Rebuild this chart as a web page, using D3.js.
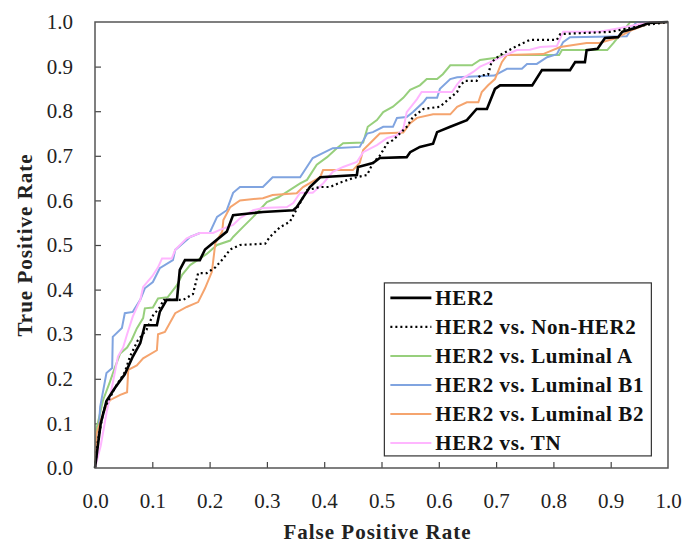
<!DOCTYPE html>
<html>
<head>
<meta charset="utf-8">
<script src="https://cdn.jsdelivr.net/npm/d3@7"></script>
<style>
  body { margin: 0; background: #fff; overflow: hidden; }
  svg { display: block; }
</style>
</head>
<body>
<div id="chart"></div>
<script>
// ROC points [false positive rate, true positive rate]
const her2 = [[0,0],[0.005,0.05],[0.01,0.1],[0.02,0.15],[0.035,0.18],[0.052,0.21],[0.066,0.25],[0.079,0.28],[0.087,0.32],[0.108,0.32],[0.113,0.35],[0.125,0.377],[0.143,0.377],[0.148,0.444],[0.157,0.466],[0.183,0.466],[0.192,0.49],[0.23,0.53],[0.241,0.567],[0.293,0.574],[0.346,0.578],[0.352,0.585],[0.375,0.63],[0.393,0.652],[0.457,0.657],[0.459,0.675],[0.485,0.684],[0.497,0.695],[0.544,0.697],[0.55,0.708],[0.567,0.72],[0.59,0.727],[0.597,0.753],[0.62,0.765],[0.649,0.78],[0.666,0.805],[0.684,0.805],[0.698,0.85],[0.707,0.858],[0.763,0.858],[0.78,0.892],[0.829,0.892],[0.838,0.91],[0.855,0.91],[0.858,0.937],[0.877,0.94],[0.89,0.964],[0.913,0.966],[0.92,0.978],[0.942,0.986],[0.968,0.998],[1,1]];
const nonHer2 = [[0,0],[0.005,0.06],[0.015,0.13],[0.035,0.18],[0.052,0.215],[0.061,0.25],[0.075,0.287],[0.09,0.31],[0.1,0.34],[0.113,0.36],[0.12,0.377],[0.154,0.377],[0.171,0.39],[0.18,0.437],[0.195,0.437],[0.21,0.45],[0.224,0.47],[0.236,0.49],[0.253,0.5],[0.297,0.503],[0.305,0.518],[0.323,0.54],[0.34,0.552],[0.354,0.585],[0.37,0.623],[0.393,0.63],[0.41,0.63],[0.428,0.64],[0.45,0.65],[0.475,0.657],[0.485,0.684],[0.497,0.7],[0.51,0.728],[0.52,0.735],[0.544,0.765],[0.555,0.787],[0.573,0.805],[0.602,0.81],[0.62,0.83],[0.632,0.843],[0.637,0.858],[0.646,0.868],[0.666,0.868],[0.672,0.88],[0.686,0.882],[0.692,0.91],[0.707,0.926],[0.733,0.944],[0.759,0.96],[0.806,0.96],[0.812,0.973],[0.9,0.978],[0.96,0.993],[1,1]];
const lumA = [[0,0],[0.003,0.09],[0.014,0.152],[0.026,0.193],[0.035,0.226],[0.044,0.257],[0.056,0.27],[0.064,0.287],[0.073,0.313],[0.084,0.336],[0.087,0.358],[0.101,0.36],[0.11,0.38],[0.127,0.383],[0.143,0.41],[0.152,0.433],[0.166,0.455],[0.195,0.48],[0.213,0.5],[0.236,0.51],[0.241,0.518],[0.258,0.54],[0.276,0.563],[0.3,0.596],[0.32,0.607],[0.335,0.619],[0.358,0.638],[0.37,0.646],[0.387,0.68],[0.405,0.697],[0.422,0.717],[0.433,0.728],[0.468,0.73],[0.476,0.765],[0.492,0.78],[0.503,0.798],[0.52,0.81],[0.538,0.83],[0.55,0.848],[0.567,0.858],[0.579,0.872],[0.597,0.872],[0.607,0.883],[0.62,0.903],[0.658,0.903],[0.672,0.915],[0.7,0.92],[0.712,0.926],[0.81,0.926],[0.815,0.937],[0.894,0.937],[0.905,0.953],[0.925,0.985],[0.934,1],[1,1]];
const lumB1 = [[0,0],[0.005,0.06],[0.009,0.137],[0.02,0.213],[0.03,0.224],[0.031,0.294],[0.047,0.314],[0.052,0.347],[0.066,0.35],[0.079,0.377],[0.087,0.403],[0.101,0.417],[0.113,0.448],[0.136,0.466],[0.14,0.489],[0.166,0.518],[0.183,0.527],[0.2,0.527],[0.213,0.563],[0.23,0.578],[0.241,0.617],[0.253,0.63],[0.293,0.63],[0.31,0.652],[0.358,0.652],[0.38,0.695],[0.415,0.717],[0.462,0.72],[0.475,0.75],[0.485,0.753],[0.503,0.765],[0.52,0.765],[0.527,0.785],[0.544,0.787],[0.555,0.798],[0.573,0.82],[0.579,0.83],[0.597,0.83],[0.602,0.85],[0.62,0.872],[0.632,0.876],[0.697,0.88],[0.719,0.895],[0.745,0.895],[0.754,0.906],[0.771,0.906],[0.789,0.921],[0.806,0.928],[0.817,0.955],[0.829,0.966],[0.928,0.968],[0.937,0.986],[0.945,1],[1,1]];
const lumB2 = [[0,0],[0.003,0.078],[0.014,0.123],[0.026,0.152],[0.044,0.164],[0.056,0.17],[0.058,0.22],[0.073,0.23],[0.084,0.246],[0.108,0.264],[0.11,0.3],[0.122,0.305],[0.14,0.347],[0.16,0.361],[0.18,0.372],[0.192,0.403],[0.204,0.44],[0.21,0.504],[0.222,0.53],[0.224,0.556],[0.236,0.585],[0.253,0.6],[0.293,0.605],[0.31,0.612],[0.352,0.616],[0.363,0.63],[0.393,0.652],[0.398,0.668],[0.45,0.668],[0.462,0.684],[0.468,0.713],[0.48,0.728],[0.497,0.75],[0.538,0.752],[0.55,0.773],[0.562,0.785],[0.59,0.793],[0.62,0.793],[0.632,0.81],[0.649,0.82],[0.669,0.82],[0.675,0.843],[0.686,0.858],[0.698,0.872],[0.71,0.91],[0.719,0.926],[0.782,0.928],[0.812,0.944],[0.858,0.953],[0.88,0.953],[0.91,0.964],[0.934,0.98],[0.969,0.998],[1,1]];
const tn = [[0,0],[0.01,0.05],[0.02,0.123],[0.031,0.19],[0.04,0.25],[0.049,0.27],[0.056,0.3],[0.066,0.34],[0.079,0.377],[0.084,0.406],[0.1,0.43],[0.11,0.45],[0.117,0.47],[0.134,0.47],[0.14,0.489],[0.16,0.515],[0.183,0.527],[0.206,0.527],[0.218,0.534],[0.241,0.545],[0.253,0.56],[0.276,0.578],[0.293,0.583],[0.335,0.585],[0.346,0.594],[0.358,0.617],[0.38,0.617],[0.398,0.638],[0.415,0.664],[0.433,0.675],[0.457,0.686],[0.468,0.708],[0.492,0.724],[0.51,0.74],[0.527,0.746],[0.538,0.76],[0.544,0.798],[0.562,0.827],[0.57,0.843],[0.623,0.843],[0.632,0.86],[0.64,0.872],[0.66,0.888],[0.672,0.9],[0.69,0.91],[0.707,0.92],[0.736,0.937],[0.759,0.938],[0.777,0.944],[0.806,0.946],[0.817,0.978],[0.88,0.978],[0.91,0.985],[0.97,1],[1,1]];

const seriesNames = ['HER2', 'HER2 vs. Non-HER2', 'HER2 vs. Luminal A', 'HER2 vs. Luminal B1', 'HER2 vs. Luminal B2', 'HER2 vs. TN'];
const seriesData = [her2, nonHer2, lumA, lumB1, lumB2, tn];
const ticks = [0, 0.1, 0.2, 0.3, 0.4, 0.5, 0.6, 0.7, 0.8, 0.9, 1.0];

const FONT = "'Liberation Serif', 'DejaVu Serif', 'Noto Serif', Tinos, FreeSerif, serif";

const styles = [
  { color: '#000', width: 2.6, dash: null },
  { color: '#000', width: 2.2, dash: '2,3' },
  { color: '#97cf7c', width: 2, dash: null },
  { color: '#80a4e0', width: 2, dash: null },
  { color: '#f5a46e', width: 2, dash: null },
  { color: '#ffb6ff', width: 2, dash: null }
];

const width = 684, height = 544;
const margin = { top: 22, right: 16, bottom: 76, left: 95 };
const innerWidth = width - margin.left - margin.right;
const innerHeight = height - margin.top - margin.bottom;

const svg = d3.select('#chart').append('svg')
  .attr('width', width)
  .attr('height', height)
  .attr('font-family', FONT);

const g = svg.append('g').attr('transform', `translate(${margin.left},${margin.top})`);

const x = d3.scaleLinear().domain([0, 1]).range([0, innerWidth]);
const y = d3.scaleLinear().domain([0, 1]).range([innerHeight, 0]);

// axes, ticks pointing inward
const xAxis = g.append('g')
  .attr('transform', `translate(0,${innerHeight})`)
  .call(d3.axisBottom(x).tickValues(ticks).tickFormat(d3.format('.1f')).tickSizeInner(-6).tickSizeOuter(0).tickPadding(25));
const yAxis = g.append('g')
  .call(d3.axisLeft(y).tickValues(ticks).tickFormat(d3.format('.1f')).tickSizeInner(-6).tickSizeOuter(0).tickPadding(22));

[xAxis, yAxis].forEach(a => {
  a.attr('font-family', FONT).attr('font-size', 21);
  a.select('.domain').remove();
  a.selectAll('line').attr('stroke', '#444').attr('stroke-width', 1.2);
  a.selectAll('text').attr('fill', '#222');
});
xAxis.selectAll('.tick line').filter(d => d === 0 || d === 1).remove();
yAxis.selectAll('.tick line').filter(d => d === 0 || d === 1).remove();

const line = d3.line()
  .x(d => x(d[0]))
  .y(d => y(d[1]));

// coloured curves first, black ones on top
[2, 3, 4, 5, 1, 0].forEach(i => {
  g.append('path')
    .datum(seriesData[i])
    .attr('fill', 'none')
    .attr('stroke', styles[i].color)
    .attr('stroke-width', styles[i].width)
    .attr('stroke-dasharray', styles[i].dash)
    .attr('d', line);
});

// plot frame
g.append('rect')
  .attr('x', 0).attr('y', 0)
  .attr('width', innerWidth).attr('height', innerHeight)
  .attr('fill', 'none')
  .attr('stroke', '#555')
  .attr('stroke-width', 1.5);

// legend
const legend = g.append('g').attr('transform', `translate(${x(0.505)},${y(0.415)})`);
legend.append('rect')
  .attr('width', 267).attr('height', 173)
  .attr('fill', '#fff')
  .attr('stroke', '#333')
  .attr('stroke-width', 1.2);

seriesNames.forEach((name, i) => {
  const row = legend.append('g').attr('transform', `translate(0,${15 + i * 29})`);
  row.append('line')
    .attr('x1', 6).attr('x2', 47)
    .attr('stroke', styles[i].color)
    .attr('stroke-width', styles[i].width)
    .attr('stroke-dasharray', styles[i].dash);
  row.append('text')
    .attr('x', 51)
    .attr('dy', '0.35em')
    .attr('fill', '#111')
    .attr('font-size', 21)
    .attr('font-weight', 'bold')
    .attr('letter-spacing', 0.6)
    .text(name);
});

// axis titles
svg.append('text')
  .attr('x', margin.left + innerWidth / 2 - 4)
  .attr('y', 539)
  .attr('text-anchor', 'middle')
  .attr('font-size', 21)
  .attr('font-weight', 'bold')
  .attr('letter-spacing', 1)
  .attr('fill', '#222')
  .text('False Positive Rate');

svg.append('text')
  .attr('transform', `translate(32,${margin.top + innerHeight / 2}) rotate(-90)`)
  .attr('text-anchor', 'middle')
  .attr('font-size', 21)
  .attr('font-weight', 'bold')
  .attr('letter-spacing', 1)
  .attr('fill', '#222')
  .text('True Positive Rate');
</script>
</body>
</html>
